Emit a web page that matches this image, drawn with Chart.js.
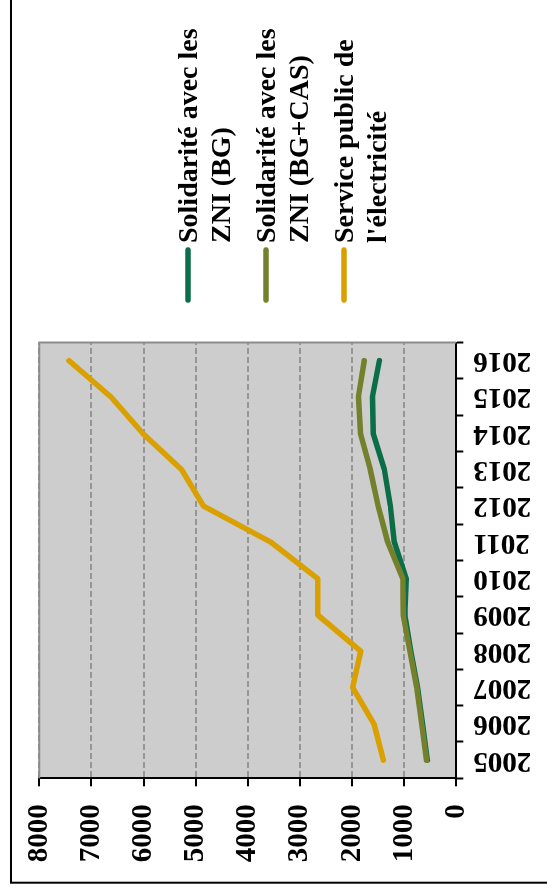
<!DOCTYPE html>
<html><head><meta charset="utf-8">
<script src="https://cdn.jsdelivr.net/npm/chart.js@4/dist/chart.umd.min.js"></script>
<style>
html,body{margin:0;padding:0;background:#fff;overflow:hidden;width:547px;height:893px;}
#wrap{position:absolute;left:0;top:0;width:893px;height:547px;transform-origin:0 0;transform:translateY(893px) rotate(-90deg);}
canvas{display:block;}
</style></head><body>
<div id="wrap"><canvas id="c" width="893" height="547"></canvas></div>
<script>
const years = ['2005','2006','2007','2008','2009','2010','2011','2012','2013','2014','2015','2016'];
const labelBG = ['Solidarité avec les', 'ZNI (BG)'];
const labelBGCAS = ['Solidarité avec les', 'ZNI (BG+CAS)'];
const labelSPE = ['Service public de', "l'électricité"];
const valuesBG = [555, 650, 745, 875, 990, 960, 1190, 1265, 1380, 1595, 1610, 1475];
const valuesBGCAS = [570, 665, 760, 890, 1020, 1025, 1315, 1500, 1650, 1840, 1878, 1766];
const valuesSPE = [1400, 1579, 1988, 1834, 2660, 2660, 3555, 4854, 5268, 6016, 6624, 7430];
const valueMin = 0, valueMax = 8000, valueStep = 1000;

const FAMILY = "'Liberation Serif', 'Times New Roman', serif";
const TICKFONT = {family: FAMILY, weight: 'bold', size: 29};
const LEGENDSIZE = 28;

const bgPlugin = {
  id: 'bgPlugin',
  beforeDraw(chart) {
    const {ctx, chartArea: a} = chart;
    ctx.save();
    ctx.fillStyle = '#cdcdcd';
    ctx.fillRect(a.left, a.top, a.right - a.left, a.bottom - a.top);
    ctx.restore();
  },
  beforeDatasetsDraw(chart) {
    const {ctx, chartArea: a} = chart;
    ctx.save();
    ctx.strokeStyle = '#8c8c8c';
    ctx.lineWidth = 2;
    ctx.beginPath();
    ctx.moveTo(a.left, a.top);
    ctx.lineTo(a.right, a.top);
    ctx.lineTo(a.right, a.bottom);
    ctx.stroke();
    ctx.restore();
  },
  afterDraw(chart) {
    const ctx = chart.ctx;
    ctx.save();
    ctx.strokeStyle = '#000';
    ctx.lineWidth = 2;
    ctx.beginPath();
    ctx.moveTo(900, 11);
    ctx.lineTo(10.3, 11);
    ctx.lineTo(10.3, 560);
    ctx.stroke();
    chart.data.datasets.slice().sort((p, q) => p.legendIndex - q.legendIndex).forEach((ds, i) => {
      const v = 188 + i * 78;
      ctx.strokeStyle = ds.borderColor;
      ctx.lineWidth = 5.5;
      ctx.lineCap = 'round';
      ctx.beginPath();
      ctx.moveTo(593, v);
      ctx.lineTo(643, v);
      ctx.stroke();
      ctx.fillStyle = '#000';
      ctx.font = `bold ${LEGENDSIZE}px ${FAMILY}`;
      ctx.textBaseline = 'alphabetic';
      ctx.textAlign = 'left';
      ds.legendText.forEach((t, k) => ctx.fillText(t, 650, v + 9 + k * 33));
    });
    ctx.restore();
  }
};

new Chart(document.getElementById('c'), {
  type: 'line',
  data: {
    labels: years,
    datasets: [
      {label: labelBG.join(' '), legendText: labelBG, legendIndex: 0, data: valuesBG, borderColor: '#0b6e48', order: 1},
      {label: labelBGCAS.join(' '), legendText: labelBGCAS, legendIndex: 1, data: valuesBGCAS, borderColor: '#74802b', order: 0},
      {label: labelSPE.join(' '), legendText: labelSPE, legendIndex: 2, data: valuesSPE, borderColor: '#d9a000', order: 2}
    ].map(d => Object.assign(d, {borderWidth: 5.5, pointRadius: 0, tension: 0, fill: false, borderCapStyle: 'round', borderJoinStyle: 'round'}))
  },
  options: {
    responsive: false,
    devicePixelRatio: 1,
    animation: false,
    layout: {padding: {top: 39.3, right: 342.5, left: 0, bottom: 0}},
    plugins: {legend: {display: false}, tooltip: {enabled: false}},
    scales: {
      x: {
        type: 'category',
        position: 'bottom',
        offset: true,
        grid: {offset: true, drawOnChartArea: false, drawTicks: true, tickLength: 7, tickColor: '#000', tickWidth: 2},
        border: {display: true, color: '#000', width: 2},
        ticks: {minRotation: 90, maxRotation: 90, autoSkip: false, font: TICKFONT, color: '#000', padding: 10},
        afterFit(s) { s.height = 90.7; }
      },
      y: {
        min: valueMin, max: valueMax,
        ticks: {stepSize: valueStep, font: TICKFONT, color: '#000', padding: 18, callback: v => String(v)},
        grid: {color: '#969696', lineWidth: 2, tickColor: '#000', tickWidth: 2, tickLength: 8, tickBorderDash: []},
        border: {display: true, color: '#000', width: 2, dash: [6, 3]},
        afterFit(s) { s.width = 114.7; }
      }
    }
  },
  plugins: [bgPlugin]
});
</script>
</body></html>
